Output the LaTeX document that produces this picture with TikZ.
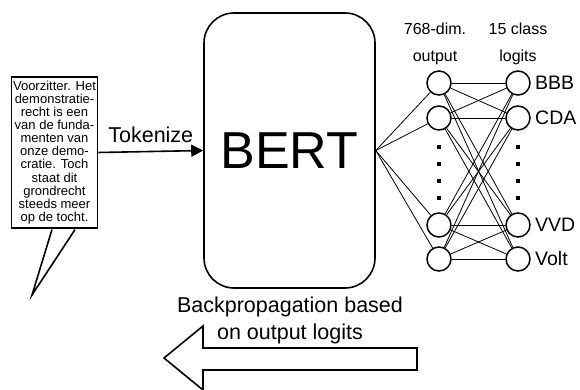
\documentclass[tikz,border=0pt]{standalone}
\usepackage{fontspec}
\setmainfont{Liberation Sans}
\usetikzlibrary{arrows.meta}
\begin{document}
\begin{tikzpicture}[x=1pt,y=-1pt,
  thick line/.style={line width=1.6pt},
  neuron/.style={circle,draw,line width=1.5pt,minimum size=24pt,inner sep=0pt},
  conn/.style={line width=0.8pt},
  dotsq/.style={fill=black,minimum size=4pt,inner sep=0pt},
  lab/.style={font=\fontsize{19.5}{22}\selectfont,anchor=west,inner sep=0pt},
  head/.style={font=\fontsize{16}{27}\selectfont,align=center,inner sep=0pt}
]
\useasboundingbox (0,0) rectangle (580,390);
% speech bubble
\node[draw,thick line,minimum width=86pt,minimum height=151pt,inner sep=0pt,align=center,
      font=\fontsize{13}{13.1}\selectfont] (bubble) at (54.5,152.5)
  {Voorzitter. Het\\demonstratie-\\recht is een\\van de funda-\\menten van\\onze demo-\\cratie. Toch\\staat dit\\grondrecht\\steeds meer\\op de tocht.};
\coordinate (tip) at (32,295);
\draw[thick line,line join=miter,fill=white] ([xshift=-2.5pt,yshift=-0.8pt]bubble.south) -- (tip) -- ([xshift=20.5pt,yshift=-0.8pt]bubble.south);
% BERT
\node[draw,thick line,rounded corners=30pt,minimum width=171pt,minimum height=275pt,
      font=\fontsize{52}{58}\selectfont] (bert) at (289.5,150.5) {BERT};
% tokenize arrow
\draw[line width=1.6pt,-{Triangle[length=12pt,width=12pt]}] (bubble.east) -- (bert.west)
  node[midway,above=5pt,font=\fontsize{21.5}{24}\selectfont] (tok) {Tokenize};
% neurons
\foreach \n/\y in {1/83,2/118,3/225,4/259}{
  \node[neuron] (l\n) at (439,\y) {};
  \node[neuron] (r\n) at (518,\y) {};
}
\foreach \y in {147,164,181,198}{
  \node[dotsq] at (439,\y) {};
  \node[dotsq] at (518,\y) {};
}
\foreach \n in {1,2,3,4}{
  \draw[conn] (bert.east) -- (l\n);
  \foreach \m in {1,2,3,4}{ \draw[conn] (l\n) -- (r\m); }
}
\node[lab] (bbb) at (535,83) {BBB};
\node[lab] (cda) at (535,118) {CDA};
\node[lab] (vvd) at (535,225) {VVD};
\node[lab] (volt) at (535,259) {Volt};
\node[head] (h1) at (435,44) {768-dim.\\output};
\node[head] (h2) at (518,44) {15 class\\logits};
% backprop arrow
\draw[thick line,line join=miter] (417,348) -- (203,348) -- (203,326) -- (164,358) -- (203,390) -- (203,370) -- (417,370) -- cycle;
\node[font=\fontsize{21.5}{27}\selectfont,align=center] (bp) at (290,320) {Backpropagation based\\on output logits};
\end{tikzpicture}
\end{document}
